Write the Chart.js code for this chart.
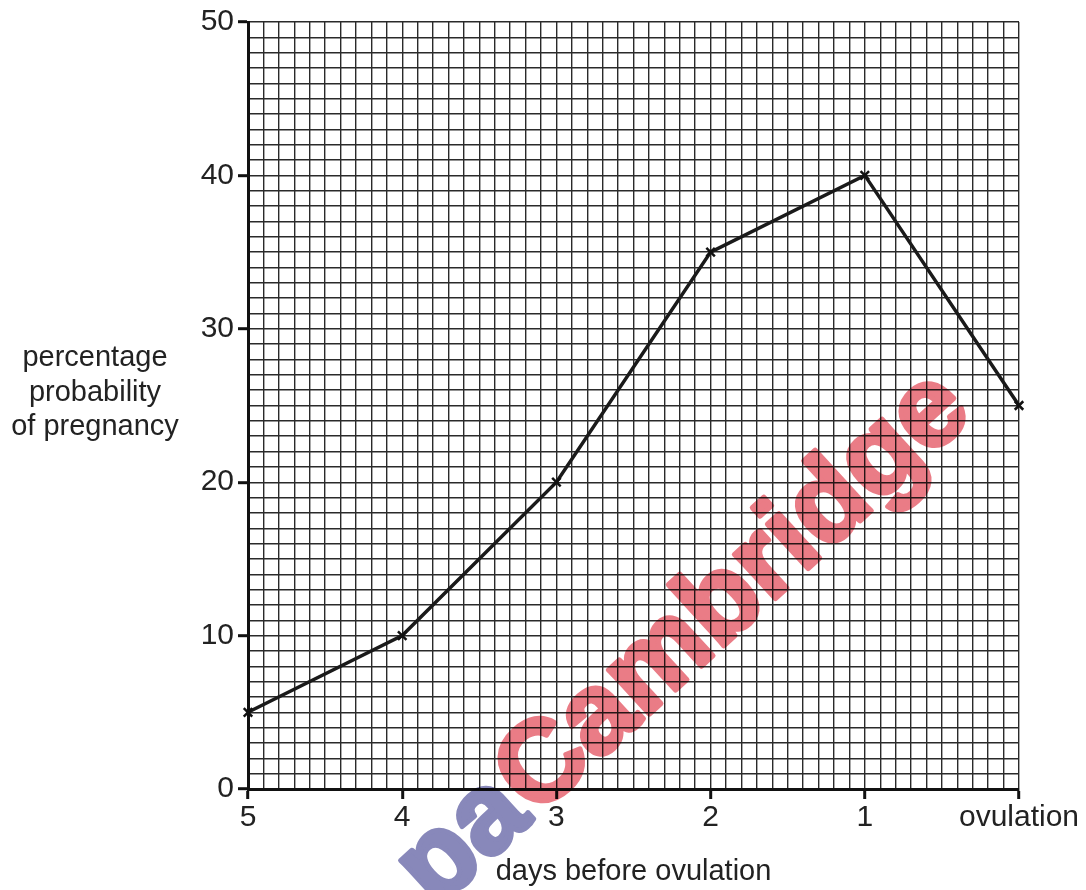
<!DOCTYPE html>
<html>
<head>
<meta charset="utf-8">
<title>Probability of pregnancy</title>
<script src="https://cdn.jsdelivr.net/npm/chart.js@4.4.1/dist/chart.umd.min.js"></script>
<style>
  html, body { margin: 0; padding: 0; background: #fff; }
  #wrap { width: 1086px; height: 890px; }
</style>
</head>
<body>
<div id="wrap"><canvas id="chart" width="1086" height="890"></canvas></div>
<script>
// data
const days = ['5', '4', '3', '2', '1', 'ovulation'];
const probability = [5, 10, 20, 35, 40, 25];
const yTickLabels = [0, 10, 20, 30, 40, 50];
const yTitleLines = ['percentage', 'probability', 'of pregnancy'];
const xTitle = 'days before ovulation';

const FONT = '"Liberation Sans", Arial, sans-serif';
const INK = '#222';

const isWhole = v => Math.abs(v - Math.round(v)) < 1e-6;

// horizontal y-axis title on the left
const yTitlePlugin = {
    id: 'yTitle',
    afterDraw(chart) {
        const ctx = chart.ctx;
        ctx.save();
        ctx.font = '29px ' + FONT;
        ctx.fillStyle = INK;
        ctx.textAlign = 'center';
        ctx.textBaseline = 'alphabetic';
        yTitleLines.forEach((t, i) => ctx.fillText(t, 95, 366 + i * 34.5));
        ctx.restore();
    }
};

// the diagonal watermark, painted off-screen then multiplied over the chart
const watermarkPlugin = {
    id: 'watermark',
    afterDraw(chart) {
        const off = document.createElement('canvas');
        off.width = chart.width;
        off.height = chart.height;
        const o = off.getContext('2d');
        o.translate(536, 818);
        o.rotate(-42.5 * Math.PI / 180);
        o.font = 'bold 114px ' + FONT;
        o.textBaseline = 'alphabetic';
        o.lineJoin = 'round';
        o.lineWidth = 5;
        o.textAlign = 'left';
        o.fillStyle = o.strokeStyle = 'rgb(234, 124, 134)';
        o.fillText('Cambridge', 0, 0);
        o.strokeText('Cambridge', 0, 0);
        o.textAlign = 'right';
        o.fillStyle = o.strokeStyle = 'rgb(136, 136, 186)';
        o.fillText('pa', -3, 0);
        o.strokeText('pa', -3, 0);

        const ctx = chart.ctx;
        ctx.save();
        ctx.globalCompositeOperation = 'multiply';
        ctx.drawImage(off, 0, 0);
        ctx.restore();
    }
};

new Chart(document.getElementById('chart'), {
    type: 'line',
    data: {
        datasets: [{
            data: probability.map((v, i) => ({ x: i, y: v })),
            borderColor: '#1a1a1a',
            borderWidth: 3.5,
            tension: 0,
            pointStyle: 'crossRot',
            pointRadius: 6,
            pointBorderWidth: 2.5,
            pointBorderColor: '#111',
            clip: false
        }]
    },
    options: {
        responsive: false,
        animation: false,
        devicePixelRatio: 1,
        layout: { padding: { top: 20, right: 67, left: 0, bottom: 0 } },
        plugins: { legend: { display: false }, tooltip: { enabled: false } },
        scales: {
            x: {
                type: 'linear',
                min: 0,
                max: days.length - 1,
                afterFit: s => { s.height = 101; },
                ticks: {
                    stepSize: 0.1,
                    autoSkip: false,
                    maxRotation: 0,
                    padding: 1,
                    color: INK,
                    font: { family: FONT, size: 30 },
                    callback: v => isWhole(v) ? days[Math.round(v)] : ''
                },
                grid: {
                    color: '#2a2a2a',
                    lineWidth: 1.4,
                    tickLength: 10,
                    tickWidth: 3,
                    tickColor: c => isWhole(c.tick.value) ? '#111' : 'rgba(0,0,0,0)'
                },
                border: { display: true, color: '#111', width: 3 },
                title: {
                    display: true,
                    text: xTitle,
                    color: INK,
                    font: { family: FONT, size: 29 },
                    padding: { top: 0, bottom: 1 }
                }
            },
            y: {
                min: 0,
                max: 50,
                afterFit: s => { s.width = 248; },
                ticks: {
                    stepSize: 1,
                    autoSkip: false,
                    padding: 4,
                    color: INK,
                    font: { family: FONT, size: 30 },
                    callback: v => yTickLabels.includes(v) ? String(v) : ''
                },
                grid: {
                    color: '#2a2a2a',
                    lineWidth: 1.4,
                    tickLength: 10,
                    tickWidth: 3,
                    tickColor: c => yTickLabels.includes(c.tick.value) ? '#111' : 'rgba(0,0,0,0)'
                },
                border: { display: true, color: '#111', width: 3 }
            }
        }
    },
    plugins: [yTitlePlugin, watermarkPlugin]
});
</script>
</body>
</html>
